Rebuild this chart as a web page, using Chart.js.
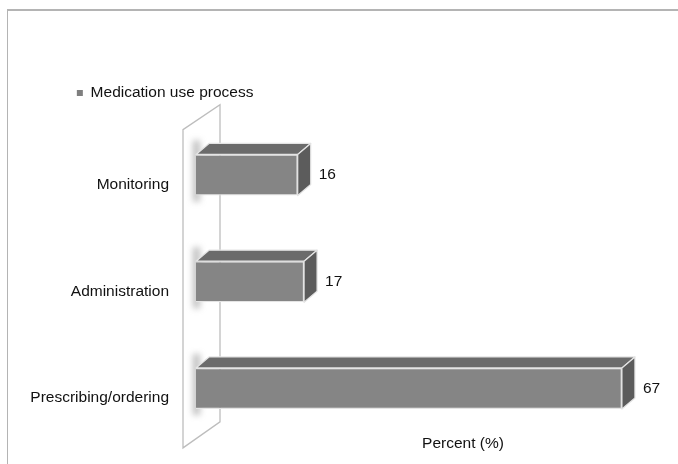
<!DOCTYPE html>
<html>
<head>
    <meta charset="UTF-8">
    <title>Medication use process</title>
    <script src="https://cdn.jsdelivr.net/npm/chart.js"></script>
    <style>
        html, body {
            margin: 0;
            padding: 0;
            background: #fff;
            overflow: hidden;
        }
        .frame {
            position: absolute;
            left: 7px;
            top: 9px;
            width: 800px;
            height: 600px;
            border-top: 2px solid #b4b4b4;
            border-left: 1.5px solid #b4b4b4;
            pointer-events: none;
        }
        /* plot runs on past the right edge of the window, like the original */
        .wrap {
            position: absolute;
            left: 0;
            top: 0;
            width: 730px;
            height: 464px;
        }
    </style>
</head>
<body>
    <div class="wrap"><canvas id="chart"></canvas></div>
    <div class="frame"></div>

    <script>
        // data
        const categories = ['Monitoring', 'Administration', 'Prescribing/ordering'];
        const percents = [16, 17, 67];
        const seriesName = 'Medication use process';
        const axisTitle = 'Percent (%)';

        const FONT = 'Liberation Sans, Arial, sans-serif';
        const DX = 13, DY = 11;   // depth of the 3d boxes

        // wall, shadows, top/side faces and value labels
        const bar3d = {
            id: 'bar3d',
            beforeLayout(chart) {
                // a bit more room between legend and plot
                const lg = chart.legend;
                if (lg && !lg._gapPatched) {
                    const fit = lg.fit;
                    lg.fit = function () {
                        fit.call(this);
                        this.height += 10.85;
                    };
                    lg._gapPatched = true;
                }
            },
            afterLayout(chart) {
                // legend sits further right than the axis labels
                if (chart.legend) chart.legend.left += 56;
            },
            beforeDatasetsDraw(chart) {
                const {ctx, chartArea: a} = chart;
                const x0 = chart.scales.x.getPixelForValue(0);
                ctx.save();
                ctx.beginPath();
                ctx.moveTo(x0 - 13, a.top + 8);
                ctx.lineTo(x0 + 24, a.top - 17);
                ctx.lineTo(x0 + 24, a.bottom - 20);
                ctx.lineTo(x0 - 13, a.bottom + 6);
                ctx.closePath();
                ctx.fillStyle = '#ffffff';
                ctx.fill();
                ctx.strokeStyle = '#bdbdbd';
                ctx.lineWidth = 1.3;
                ctx.stroke();

                ctx.filter = 'blur(3px)';
                ctx.fillStyle = 'rgba(110,110,110,0.45)';
                chart.getDatasetMeta(0).data.forEach(b => {
                    const p = b.getProps(['y', 'base', 'height'], true);
                    ctx.fillRect(p.base - 3, p.y - p.height / 2 - 14, 7, p.height + 20);
                });
                ctx.restore();
            },
            afterDatasetsDraw(chart) {
                const ctx = chart.ctx;
                ctx.save();
                ctx.lineWidth = 1.2;
                ctx.strokeStyle = '#e4e4e4';
                ctx.lineJoin = 'round';
                chart.getDatasetMeta(0).data.forEach((b, i) => {
                    const p = b.getProps(['x', 'y', 'base', 'height'], true);
                    const t = p.y - p.height / 2, bt = p.y + p.height / 2;

                    ctx.beginPath();
                    ctx.moveTo(p.base, t);
                    ctx.lineTo(p.base + DX, t - DY);
                    ctx.lineTo(p.x + DX, t - DY);
                    ctx.lineTo(p.x, t);
                    ctx.closePath();
                    ctx.fillStyle = '#6b6b6b';
                    ctx.fill();
                    ctx.stroke();

                    ctx.beginPath();
                    ctx.moveTo(p.x, t);
                    ctx.lineTo(p.x + DX, t - DY);
                    ctx.lineTo(p.x + DX, bt - DY);
                    ctx.lineTo(p.x, bt);
                    ctx.closePath();
                    ctx.fillStyle = '#5c5c5c';
                    ctx.fill();
                    ctx.stroke();

                    ctx.fillStyle = '#111';
                    ctx.font = '15.5px ' + FONT;
                    ctx.textAlign = 'left';
                    ctx.textBaseline = 'middle';
                    ctx.fillText(String(percents[i]), p.x + DX + 8, p.y);
                });
                ctx.restore();
            }
        };

        const chart = new Chart(document.getElementById('chart'), {
            type: 'bar',
            data: {
                labels: categories,
                datasets: [{
                    label: seriesName,
                    data: percents,
                    backgroundColor: '#858585',
                    borderColor: '#e4e4e4',
                    borderWidth: 1.2,
                    categoryPercentage: 1,
                    barPercentage: 0.385
                }]
            },
            options: {
                indexAxis: 'y',
                responsive: true,
                maintainAspectRatio: false,
                animation: false,
                layout: {
                    padding: {left: 10, top: 74.4, right: 0, bottom: 0}
                },
                scales: {
                    x: {
                        min: 0,
                        max: 84,
                        grid: {display: false, drawTicks: false},
                        border: {display: false},
                        ticks: {display: false},
                        title: {
                            display: true,
                            text: axisTitle,
                            color: '#111',
                            font: {family: FONT, size: 15.5},
                            padding: {top: -7, bottom: 10.5}
                        }
                    },
                    y: {
                        grid: {display: false, drawTicks: true, tickLength: 17},
                        border: {display: false},
                        ticks: {
                            color: '#111',
                            font: {family: FONT, size: 15.5},
                            padding: 10,
                            labelOffset: 9.5
                        },
                        afterFit(scale) {
                            scale.width = 186;
                        }
                    }
                },
                plugins: {
                    tooltip: {enabled: false},
                    legend: {
                        position: 'top',
                        align: 'start',
                        labels: {
                            color: '#111',
                            font: {family: FONT, size: 15.5},
                            boxWidth: 6,
                            boxHeight: 6,
                            padding: 10.85,
                            generateLabels(c) {
                                const items = Chart.defaults.plugins.legend.labels.generateLabels(c);
                                items.forEach(it => {
                                    it.lineWidth = 0;
                                    it.fillStyle = '#7f7f7f';
                                });
                                return items;
                            }
                        }
                    }
                }
            },
            plugins: [bar3d]
        });
    </script>
</body>
</html>
